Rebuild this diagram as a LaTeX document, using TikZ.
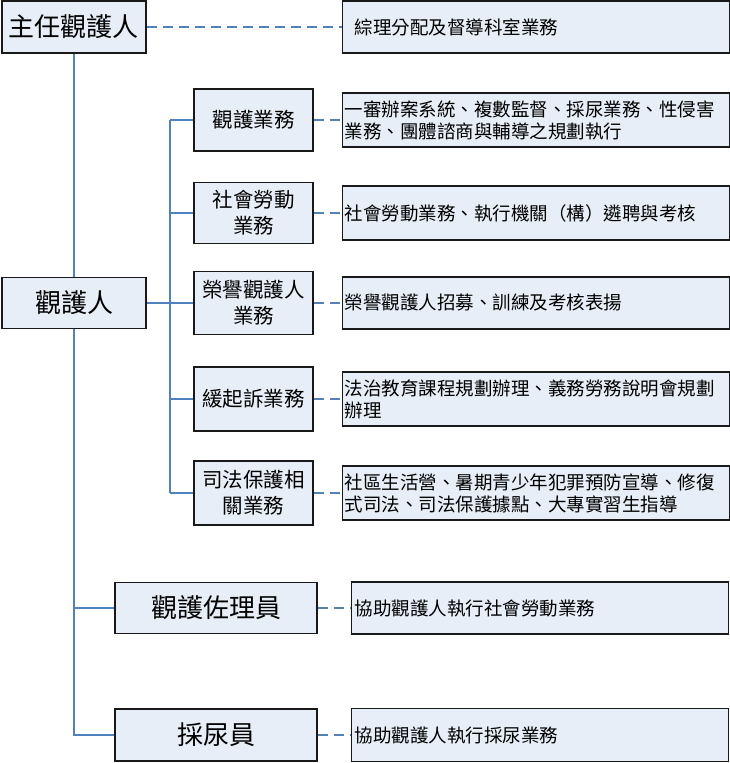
\documentclass[tikz,border=0pt]{standalone}
\usepackage{fontspec}
\setmainfont{Noto Sans CJK TC}
\usetikzlibrary{positioning}
\definecolor{boxfill}{RGB}{232,238,247}
\definecolor{linkblue}{RGB}{79,129,189}

\begin{document}
\begin{tikzpicture}[x=1pt, y=-1pt,
    cell/.style={draw=black!90, line width=1.6pt, fill=boxfill, inner sep=0pt},
    role/.style={cell, minimum width=144pt, minimum height=52pt, font=\fontsize{26}{30}\selectfont},
    task/.style={cell, minimum width=119pt, minimum height=63pt, align=center, font=\fontsize{20.5}{26}\selectfont},
    duty/.style={cell, minimum height=54pt, text width=383pt, inner xsep=2pt, align=left, font=\fontsize{18.5}{22}\selectfont},
    tree/.style={draw=linkblue, line width=1.3pt},
    link/.style={draw=linkblue!85!gray, line width=1.3pt, dash pattern=on 10pt off 6pt}]
    \useasboundingbox (0,0) rectangle (730,763);

    % left column
    \node[role] (chief) at (74,27) {主任觀護人};
    \node[role, minimum height=51pt] (officer) at (74,303) {觀護人};
    \node[role, minimum width=202pt, minimum height=51pt] (assistant) at (216,608) {觀護佐理員};
    \node[role, minimum width=202pt] (urine) at (216,735) {採尿員};

    % officer tasks
    \node[task, minimum height=62pt] (t1) at (253.5,120) {觀護業務};
    \node[task, minimum height=61pt] (t2) at (253.5,213) {社會勞動\\業務};
    \node[task] (t3) at (253.5,303) {榮譽觀護人\\業務};
    \node[task, minimum height=64pt] (t4) at (253.5,399) {緩起訴業務};
    \node[task, minimum height=64pt] (t5) at (253.5,493) {司法保護相\\關業務};

    % duties
    \node[duty, text width=363pt, inner xsep=12pt, minimum height=52pt] (chiefduty) [right=195pt of chief] {綜理分配及督導科室業務};
    \node[duty] (d1) [right=28pt of t1] {一審辦案系統、複數監督、採尿業務、性侵害\\業務、團體諮商與輔導之規劃執行};
    \node[duty] (d2) [right=28pt of t2] {社會勞動業務、執行機關（構）遴聘與考核};
    \node[duty, minimum height=52pt] (d3) [right=28pt of t3] {榮譽觀護人招募、訓練及考核表揚};
    \node[duty] (d4) [right=28pt of t4] {法治教育課程規劃辦理、義務勞務說明會規劃\\辦理};
    \node[duty] (d5) [right=28pt of t5] {社區生活營、暑期青少年犯罪預防宣導、修復\\式司法、司法保護據點、大專實習生指導};
    \node[duty, text width=371pt, inner xsep=3pt, minimum height=52pt] (d6) [right=33pt of assistant] {協助觀護人執行社會勞動業務};
    \node[duty, text width=371pt, inner xsep=3pt, minimum height=53pt] (d7) [right=33pt of urine] {協助觀護人執行採尿業務};

    % tree lines
    \coordinate (bus) at (170,0);
    \draw[tree] (chief) -- (officer);
    \draw[tree] (officer.south) |- (assistant.west);
    \draw[tree] (officer.south) |- (urine.west);
    \draw[tree] (officer) -- (t3);
    \foreach \t in {t1,t2,t4,t5}
        \draw[tree] (\t.west) -- (\t.west -| bus);
    \draw[tree] (t1.west -| bus) -- (t5.west -| bus);

    % dashed links
    \foreach \a/\b in {chief/chiefduty, t1/d1, t2/d2, t3/d3, t4/d4, t5/d5, assistant/d6, urine/d7}
        \draw[link] (\a) -- (\b);
\end{tikzpicture}
\end{document}
